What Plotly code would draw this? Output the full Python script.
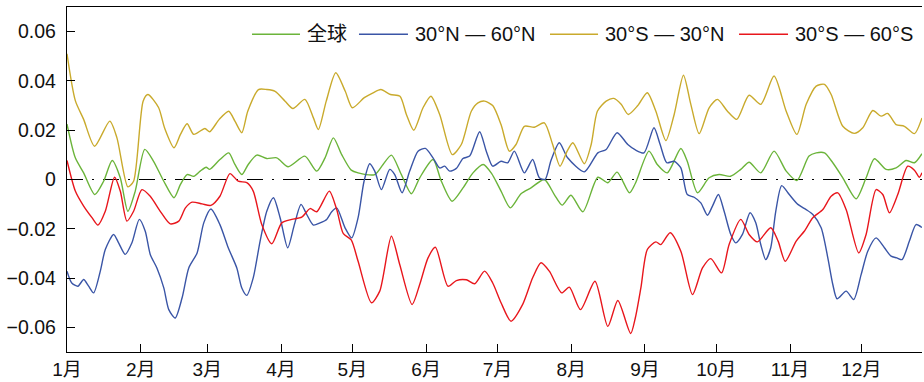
import plotly.graph_objects as go

# ---------------- data (day of year, anomaly) ----------------
month_ticks = [0, 31, 59, 90, 120, 151, 181, 212, 243, 273, 304, 334]
month_labels = ["1月", "2月", "3月", "4月", "5月", "6月", "7月", "8月", "9月", "10月", "11月", "12月"]
y_ticks = [-0.06, -0.04, -0.02, 0, 0.02, 0.04, 0.06]
y_labels = ["\u22120.06", "\u22120.04", "\u22120.02", "0", "0.02", "0.04", "0.06"]

series_names = ["全球", "30°N — 60°N", "30°S — 30°N", "30°S — 60°S"]

green_day = [0, 3.5, 7, 11.7, 15.4, 19, 22.4, 25.6, 28.7, 32.7, 36.4, 40.7, 45, 47.7, 50.5,
             53.3, 56, 58.5, 60, 64.3, 68, 70.6, 73.5, 76.2, 79.8, 84, 88.2, 93, 100, 105,
             108.5, 112, 115.5, 119.5, 122.4, 129.4, 132.9, 136.4, 140.6, 144.8, 148.3, 153.9, 157.4, 161.9, 166.5,
             170.7, 175, 178.5, 182.5, 186.4, 190.9, 195.1, 200.7, 204.9, 208.2, 211.9, 216.9, 223.2, 227.4, 231.3,
             236.5, 239, 244.7, 248.2, 252.4, 258.1, 260.8, 265.1, 270, 274.2, 279, 283.3, 286.8, 291.7, 297.3,
             302.4, 306.9, 312, 315, 318.5, 322, 326.2, 331.8, 336, 339.5, 344.4, 348.6, 352.8, 356.3, 359.5]
green_val = [0.0225, 0.0088, 0.0027, -0.0061, -0.0007, 0.0077, 0.0007, -0.0129, -0.0047, 0.0122,
             0.0074, -0.0007, -0.0074, -0.002, 0.002, 0.0013, 0.0034, 0.005, 0.0041, 0.0081,
             0.0108, 0.0061, 0.002, 0.0061, 0.0099, 0.0085, 0.0088, 0.0052, 0.0095, 0.0034,
             0.0088, 0.0169, 0.0101, 0.0038, 0.0027, 0.002, 0.0061, 0.0099, 0.002, -0.0058,
             0.0007, 0.0081, -0.0007, -0.0088, -0.0034, 0.0027, 0.0061, 0.0025, -0.0047, -0.0115,
             -0.0058, -0.0034, 0, -0.0061, -0.0104, -0.0064, -0.0131, 0.0009, -0.0013, 0.003,
             -0.0054, -0.0015, 0.0115, 0.0061, 0.0027, 0.0126, 0.0074, -0.0054, 0.0007, 0.002,
             0.0013, 0.0041, 0.007, 0.0027, 0.0115, 0.0034, -0.0004, 0.0095, 0.0108, 0.0108,
             0.0068, 0.0007, -0.0078, 0.0007, 0.0084, 0.0041, 0.0047, 0.0077, 0.0068, 0.0105]

blue_day = [0, 2, 4.6, 7, 9.1, 11.2, 14, 16.1, 19.6, 21.7, 24.5, 27.3, 30.4, 32.9, 35,
            37.8, 40.7, 42.8, 45.5, 48.4, 51.2, 54.7, 57.5, 60.5, 64.3, 67.8, 71.4, 73.5, 75.6, 78.3,
            81.2, 84, 86.8, 89.6, 92.8, 95.6, 98.4, 100.8, 103.6, 106.4, 109.2, 111.3, 113.4, 116.9, 119.7,
            122.4, 124.9, 127.3, 129.4, 132.2, 135.7, 137.8, 140.9, 144.1, 147.6, 150.7, 153.9, 156.7, 158.8, 160.9,
            163.7, 166.5, 169.3, 173.5, 176.3, 179, 182.5, 185.3, 188.1, 192.3, 195.8, 198.6, 201, 203.5, 207,
            210.5, 217.5, 223.2, 226.7, 231.3, 235.8, 239, 242.6, 246.8, 249.4, 252.2, 255.3, 258.1, 260.8, 263.7,
            266.5, 269.3, 271.4, 273.9, 276.3, 279.1, 281.2, 284, 287.2, 289.6, 291.7, 293.8, 295.9, 298, 300.5,
            303.7, 307.3, 310.8, 313.6, 317.1, 319.9, 322, 323.8, 327.6, 330.8, 333.9, 336.7, 340.2, 343.7, 346.5,
            348.9, 351.1, 354.2, 357, 359.5]
blue_val = [-0.0372, -0.042, -0.0433, -0.0406, -0.0433, -0.046, -0.0372, -0.0284, -0.0223, -0.0257,
            -0.0304, -0.0257, -0.0162, -0.021, -0.0304, -0.0359, -0.044, -0.0528, -0.0562, -0.048,
            -0.0359, -0.0298, -0.0176, -0.012, -0.0183, -0.0277, -0.0359, -0.044, -0.047, -0.0399,
            -0.025, -0.0129, -0.0074, -0.0155, -0.0277, -0.0183, -0.0101, -0.0142, -0.0185, -0.0176,
            -0.0162, -0.0131, -0.0115, -0.0196, -0.0237, -0.0155, -0.0007, 0.0064, 0.0034, -0.0041,
            0.0041, 0.002, -0.0054, 0.0034, 0.0115, 0.0126, 0.0088, 0.0047, 0.0054, 0.0034,
            0.0045, 0.0085, 0.0095, 0.0194, 0.0115, 0.0054, 0.0074, 0.0068, 0.0115, 0.0027,
            0.0081, 0.0007, 0, 0.0077, 0.0149, 0.0088, 0.0031, 0.0108, 0.0122, 0.019,
            0.0142, 0.012, 0.0108, 0.021, 0.0142, 0.0068, 0.0074, 0.0047, -0.0061, -0.0072,
            -0.0095, -0.0145, -0.0108, -0.0061, -0.0129, -0.0223, -0.0257, -0.0223, -0.0135, -0.0176,
            -0.0264, -0.0325, -0.0277, -0.013, -0.0025, -0.0061, -0.0101, -0.0122, -0.0142, -0.0196,
            -0.0318, -0.0426, -0.0484, -0.0453, -0.0487, -0.0386, -0.0291, -0.0237, -0.0277, -0.0311,
            -0.0318, -0.0325, -0.025, -0.0183, -0.0195]

gold_day = [0, 3.5, 7, 11.6, 18, 21, 25.6, 28, 32, 34, 38.5, 41, 45, 47.7, 50.5,
            53.3, 58, 60, 64, 68, 70.6, 73.5, 76, 80.5, 84, 87.5, 91.7, 95, 100, 103.6,
            105.7, 109, 113, 117, 120, 125, 128.7, 132, 136, 140, 142.7, 145.8, 149.7, 153, 156.7,
            162, 165.8, 170, 172.8, 175.6, 179, 182.5, 186, 188.8, 192.3, 196.5, 200.7, 204.2, 207.3, 210.3,
            212.7, 217.5, 220.4, 223, 226.7, 229.9, 233, 236, 240, 244, 247.6, 251.8, 255.3, 259.2, 262.3,
            265.8, 270, 273.5, 277.7, 281.6, 286.8, 291.7, 297.3, 302.4, 306.9, 310.8, 315, 318.5, 321.3, 326.2,
            331, 334.6, 338.8, 342.3, 345.1, 348.6, 352.1, 356.3, 359.5]
gold_val = [0.051, 0.032, 0.0244, 0.0135, 0.0237, 0.0169, -0.003, -0.0007, 0.0318, 0.0345,
            0.0292, 0.021, 0.0129, 0.0183, 0.0226, 0.0183, 0.0207, 0.0194, 0.0244, 0.0277,
            0.0237, 0.019, 0.0277, 0.0365, 0.0365, 0.0358, 0.0318, 0.0288, 0.0325, 0.025,
            0.0203, 0.0318, 0.0433, 0.0358, 0.0291, 0.0332, 0.0352, 0.0365, 0.0345, 0.0338,
            0.0264, 0.02, 0.0291, 0.0338, 0.0264, 0.0101, 0.0142, 0.0277, 0.0311, 0.0318,
            0.030, 0.0223, 0.0115, 0.0142, 0.0216, 0.0212, 0.023, 0.0142, 0.0054, 0.0115,
            0.0149, 0.0064, 0.0142, 0.0277, 0.0318, 0.0329, 0.0305, 0.0264, 0.030, 0.0352,
            0.0277, 0.0158, 0.0264, 0.0423, 0.0305, 0.0186, 0.0291, 0.0325, 0.0277, 0.0244,
            0.0342, 0.0305, 0.042, 0.0277, 0.0183, 0.0305, 0.0379, 0.0386, 0.0345, 0.0216,
            0.0187, 0.021, 0.028, 0.0257, 0.0268, 0.0223, 0.0216, 0.0186, 0.025]

red_day = [0, 3.5, 7, 10.5, 13, 16.1, 20, 22.4, 25.2, 28, 31.5, 35, 39.2, 43.4, 47,
           49.8, 52.6, 56.8, 60.5, 64.3, 68.5, 72, 75.6, 78.3, 81.9, 86.1, 90.3, 94.5, 98.7, 102.2,
           105, 110.3, 113.4, 116.2, 119.5, 122.4, 128, 131.5, 136.4, 139.9, 145.1, 148.3, 151.8, 154.9, 160.2,
           163.7, 167.9, 171.4, 175.6, 179, 182.5, 186.7, 191.6, 195.8, 199.3, 202.8, 208, 211.2, 215.9, 222,
           227.4, 231.6, 237, 239, 241.3, 244, 247.6, 249.7, 253.6, 258.1, 263, 267.2, 270.7, 275.2, 278.4,
           283.3, 286.8, 290.3, 295.9, 299, 302, 306.6, 310, 313.6, 317.8, 321.3, 324.1, 327.6, 332.9, 336,
           340.2, 343, 345.8, 349.3, 353.5, 356.3, 358.4, 359.5]
red_val = [0.0077, -0.0047, -0.0108, -0.0155, -0.0185, -0.0129, 0.0009, -0.0047, -0.0169, -0.0129,
           -0.0041, -0.0068, -0.0129, -0.018, -0.0169, -0.0115, -0.0092, -0.0099, -0.0105, -0.0068,
           0.0024, -0.0007, -0.0013, -0.0047, -0.0183, -0.0261, -0.0176, -0.0162, -0.0153, -0.0118,
           -0.0131, -0.0047, -0.0122, -0.022, -0.0245, -0.0332, -0.05, -0.0453, -0.023, -0.0345,
           -0.0507, -0.0426, -0.0318, -0.0275, -0.0433, -0.041, -0.0407, -0.0423, -0.0372, -0.042,
           -0.05, -0.0575, -0.0507, -0.0399, -0.0338, -0.0372, -0.046, -0.0437, -0.0528, -0.0413,
           -0.0596, -0.0491, -0.0625, -0.056, -0.044, -0.0284, -0.0253, -0.0264, -0.0216, -0.0291,
           -0.0467, -0.0359, -0.0321, -0.0379, -0.0264, -0.0162, -0.0223, -0.0253, -0.0196, -0.025,
           -0.0332, -0.025, -0.021, -0.0155, -0.0122, -0.0068, -0.0054, -0.0122, -0.0298, -0.0223,
           -0.0041, -0.0061, -0.0135, -0.0061, 0.0054, 0.0038, 0.0009, 0.0027]

colors = ["#6BB43A", "#3A55A6", "#C9AA2C", "#E8161C"]

# ---------------- figure ----------------
FONT = "Liberation Sans, Arial, Noto Sans CJK SC, sans-serif"
fig = go.Figure()
all_series = [(green_day, green_val), (blue_day, blue_val), (gold_day, gold_val), (red_day, red_val)]
for (d, v), name, c in zip(all_series, series_names, colors):
    assert len(d) == len(v), name
    fig.add_trace(go.Scatter(x=d, y=v, mode="lines", name=name, showlegend=False,
                             line=dict(color=c, width=1.4, shape="spline", smoothing=0.7)))

# zero reference line (dash-dot)
fig.add_shape(type="line", xref="paper", yref="y", x0=0, x1=1, y0=0, y1=0,
              line=dict(color="black", width=1.2, dash="16px,9px,2px,9px"), layer="below")

# legend drawn as line samples + labels
leg_y = 0.921
leg_lines = [(0.2164, 0.2725), (0.3415, 0.3988), (0.5649, 0.6211), (0.7860, 0.8433)]
for (x0, x1), name, c in zip(leg_lines, series_names, colors):
    fig.add_shape(type="line", xref="paper", yref="paper", x0=x0, x1=x1, y0=leg_y, y1=leg_y,
                  line=dict(color=c, width=1.4))
    fig.add_annotation(xref="paper", yref="paper", x=x1 + 0.006, y=leg_y, text=name,
                       showarrow=False, xanchor="left", yanchor="middle",
                       font=dict(family=FONT, size=20, color="#111"))

fig.update_layout(
    width=924, height=382,
    margin=dict(l=67, r=2, t=7, b=30),
    paper_bgcolor="white", plot_bgcolor="white",
    font=dict(family=FONT, size=20, color="#111"),
    xaxis=dict(range=[0, 359.5], tickmode="array", tickvals=month_ticks, ticktext=month_labels,
               ticks="inside", ticklen=8, tickwidth=1.2, tickcolor="black",
               showline=True, linecolor="black", linewidth=1.3, mirror=True,
               showgrid=False, zeroline=False, tickfont=dict(size=19)),
    yaxis=dict(range=[-0.07, 0.07], tickmode="array", tickvals=y_ticks, ticktext=y_labels,
               ticks="inside", ticklen=8, tickwidth=1.2, tickcolor="black",
               showline=True, linecolor="black", linewidth=1.3, mirror=False,
               showgrid=False, zeroline=False, ticklabelstandoff=6, tickfont=dict(size=19.5)),
)

fig.write_html("out.html")
